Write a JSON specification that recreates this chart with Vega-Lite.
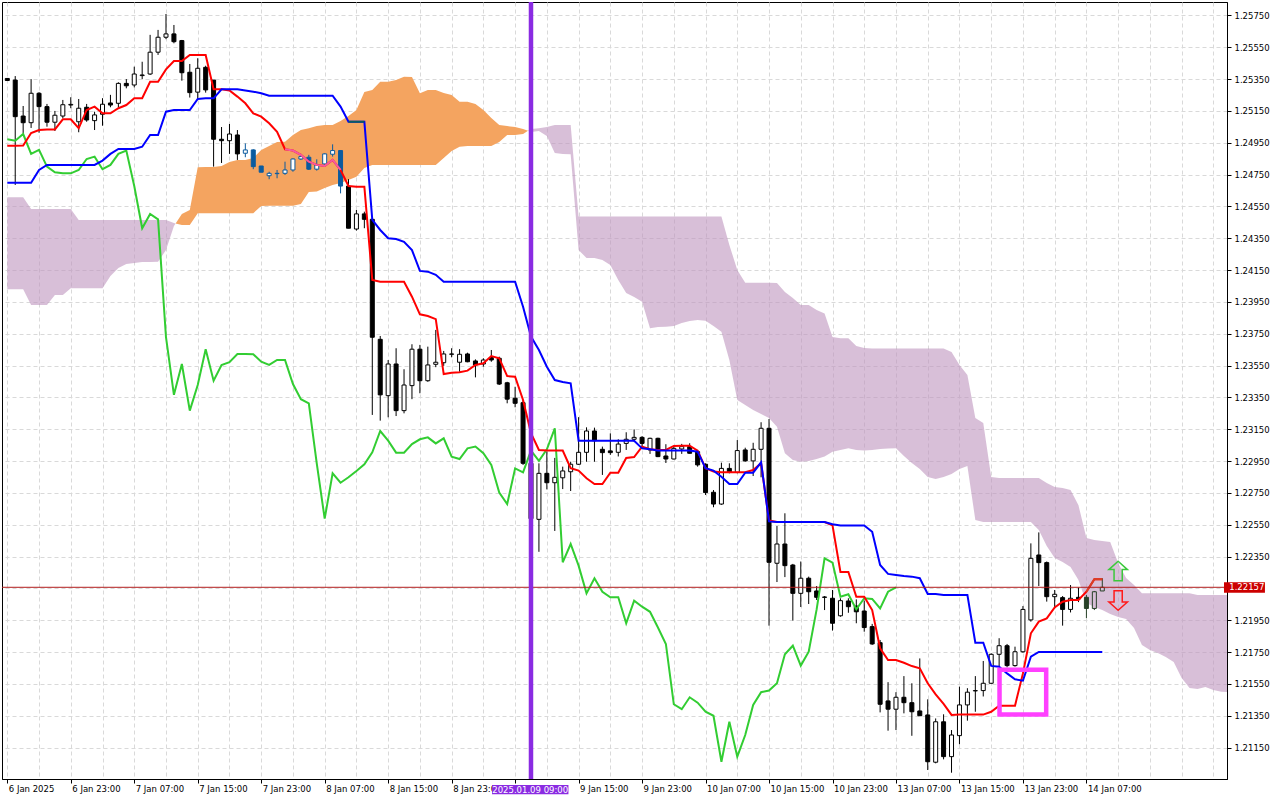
{
  "$schema": "https://vega.github.io/schema/vega-lite/v6.json",
  "width": 1225,
  "height": 777,
  "autosize": {"type": "none"},
  "padding": {"left": 2, "top": 2, "right": 53, "bottom": 21},
  "background": "white",
  "config": {
    "font": "DejaVu Sans",
    "view": {"stroke": "black", "strokeWidth": 1},
    "axis": {"labelFont": "DejaVu Sans", "labelFontSize": 8.5, "labelColor": "black", "tickColor": "black", "domainColor": "black", "domainWidth": 1, "tickWidth": 1, "labelOverlap": false, "zindex": 0}
  },
  "datasets": {
    "bars": [
      {"i":0,"o":1.25354,"h":1.25357,"l":1.25338,"c":1.25341,"t":1.24931,"k":1.24699,"ch":1.24972},
      {"i":1,"o":1.25344,"h":1.25369,"l":1.24685,"c":1.25114,"t":1.24931,"k":1.24699,"ch":1.24963},
      {"i":2,"o":1.25118,"h":1.25181,"l":1.25011,"c":1.25076,"t":1.24933,"k":1.24699,"ch":1.25005},
      {"i":3,"o":1.25076,"h":1.25350,"l":1.25043,"c":1.25261,"t":1.25011,"k":1.24699,"ch":1.24880},
      {"i":4,"o":1.25261,"h":1.25268,"l":1.25013,"c":1.25177,"t":1.25030,"k":1.24779,"ch":1.24905},
      {"i":5,"o":1.25177,"h":1.25194,"l":1.25051,"c":1.25079,"t":1.25034,"k":1.24811,"ch":1.24800},
      {"i":6,"o":1.25079,"h":1.25150,"l":1.25024,"c":1.25123,"t":1.25034,"k":1.24811,"ch":1.24765},
      {"i":7,"o":1.25118,"h":1.25219,"l":1.25104,"c":1.25189,"t":1.25097,"k":1.24811,"ch":1.24758},
      {"i":8,"o":1.25187,"h":1.25236,"l":1.25167,"c":1.25191,"t":1.25097,"k":1.24811,"ch":1.24758},
      {"i":9,"o":1.25082,"h":1.25225,"l":1.25016,"c":1.25167,"t":1.25041,"k":1.24811,"ch":1.24779},
      {"i":10,"o":1.25173,"h":1.25194,"l":1.25082,"c":1.25093,"t":1.25156,"k":1.24811,"ch":1.24848},
      {"i":11,"o":1.25089,"h":1.25145,"l":1.25030,"c":1.25125,"t":1.25177,"k":1.24811,"ch":1.24863},
      {"i":12,"o":1.25129,"h":1.25230,"l":1.25057,"c":1.25192,"t":1.25135,"k":1.24838,"ch":1.24784},
      {"i":13,"o":1.25200,"h":1.25251,"l":1.25173,"c":1.25187,"t":1.25135,"k":1.24880,"ch":1.24811},
      {"i":14,"o":1.25198,"h":1.25330,"l":1.25173,"c":1.25323,"t":1.25167,"k":1.24911,"ch":1.24880},
      {"i":15,"o":1.25323,"h":1.25350,"l":1.25292,"c":1.25308,"t":1.25187,"k":1.24911,"ch":1.24901},
      {"i":16,"o":1.25313,"h":1.25428,"l":1.25298,"c":1.25382,"t":1.25230,"k":1.24911,"ch":1.24678},
      {"i":17,"o":1.25372,"h":1.25459,"l":1.25350,"c":1.25376,"t":1.25230,"k":1.24925,"ch":1.24413},
      {"i":18,"o":1.25382,"h":1.25628,"l":1.25376,"c":1.25519,"t":1.25333,"k":1.24999,"ch":1.24503},
      {"i":19,"o":1.25519,"h":1.25659,"l":1.25502,"c":1.25613,"t":1.25333,"k":1.24999,"ch":1.24469},
      {"i":20,"o":1.25613,"h":1.25759,"l":1.25601,"c":1.25634,"t":1.25411,"k":1.25145,"ch":1.23728},
      {"i":21,"o":1.25634,"h":1.25690,"l":1.25575,"c":1.25585,"t":1.25464,"k":1.25156,"ch":1.23366},
      {"i":22,"o":1.25592,"h":1.25596,"l":1.25340,"c":1.25390,"t":1.25464,"k":1.25156,"ch":1.23560},
      {"i":23,"o":1.25393,"h":1.25445,"l":1.25234,"c":1.25265,"t":1.25502,"k":1.25156,"ch":1.23267},
      {"i":24,"o":1.25268,"h":1.25481,"l":1.25230,"c":1.25418,"t":1.25502,"k":1.25225,"ch":1.23428},
      {"i":25,"o":1.25424,"h":1.25434,"l":1.25265,"c":1.25282,"t":1.25502,"k":1.25229,"ch":1.23653},
      {"i":26,"o":1.25344,"h":1.25344,"l":1.24800,"c":1.24972,"t":1.25286,"k":1.25229,"ch":1.23455},
      {"i":27,"o":1.24972,"h":1.25049,"l":1.24823,"c":1.24963,"t":1.25286,"k":1.25286,"ch":1.23554},
      {"i":28,"o":1.24963,"h":1.25068,"l":1.24880,"c":1.25005,"t":1.25278,"k":1.25286,"ch":1.23571},
      {"i":29,"o":1.24999,"h":1.25030,"l":1.24842,"c":1.24880,"t":1.25240,"k":1.25286,"ch":1.23623},
      {"i":30,"o":1.24884,"h":1.24946,"l":1.24859,"c":1.24905,"t":1.25198,"k":1.25278,"ch":1.23623},
      {"i":31,"o":1.24905,"h":1.24909,"l":1.24784,"c":1.24800,"t":1.25135,"k":1.25271,"ch":1.23621},
      {"i":32,"o":1.24804,"h":1.24804,"l":1.24765,"c":1.24765,"t":1.25114,"k":1.25261,"ch":1.23574},
      {"i":33,"o":1.24743,"h":1.24768,"l":1.24721,"c":1.24758,"t":1.25072,"k":1.25246,"ch":1.23554},
      {"i":34,"o":1.24756,"h":1.24779,"l":1.24727,"c":1.24758,"t":1.25019,"k":1.25246,"ch":1.23585},
      {"i":35,"o":1.24758,"h":1.24831,"l":1.24748,"c":1.24779,"t":1.24909,"k":1.25246,"ch":1.23585},
      {"i":36,"o":1.24779,"h":1.24852,"l":1.24768,"c":1.24848,"t":1.24901,"k":1.25246,"ch":1.23434},
      {"i":37,"o":1.24848,"h":1.24880,"l":1.24842,"c":1.24863,"t":1.24874,"k":1.25246,"ch":1.23339},
      {"i":38,"o":1.24859,"h":1.24874,"l":1.24779,"c":1.24784,"t":1.24831,"k":1.25246,"ch":1.23313},
      {"i":39,"o":1.24784,"h":1.24846,"l":1.24775,"c":1.24811,"t":1.24811,"k":1.25246,"ch":1.22936},
      {"i":40,"o":1.24817,"h":1.24884,"l":1.24811,"c":1.24880,"t":1.24804,"k":1.25246,"ch":1.22588},
      {"i":41,"o":1.24878,"h":1.24940,"l":1.24863,"c":1.24901,"t":1.24842,"k":1.25246,"ch":1.22873},
      {"i":42,"o":1.24901,"h":1.24901,"l":1.24632,"c":1.24678,"t":1.24779,"k":1.25177,"ch":1.22814},
      {"i":43,"o":1.24678,"h":1.24721,"l":1.24413,"c":1.24413,"t":1.24678,"k":1.25082,"ch":1.22848},
      {"i":44,"o":1.24408,"h":1.24528,"l":1.24398,"c":1.24503,"t":1.24674,"k":1.25082,"ch":1.22888},
      {"i":45,"o":1.24503,"h":1.24517,"l":1.24413,"c":1.24469,"t":1.24674,"k":1.25082,"ch":1.22930},
      {"i":46,"o":1.24469,"h":1.24476,"l":1.23240,"c":1.23728,"t":1.24088,"k":1.24465,"ch":1.23005},
      {"i":47,"o":1.23715,"h":1.23736,"l":1.23204,"c":1.23366,"t":1.24077,"k":1.24402,"ch":1.23139},
      {"i":48,"o":1.23361,"h":1.23585,"l":1.23225,"c":1.23560,"t":1.24077,"k":1.24350,"ch":1.23078},
      {"i":49,"o":1.23560,"h":1.23659,"l":1.23233,"c":1.23267,"t":1.24077,"k":1.24345,"ch":1.23003},
      {"i":50,"o":1.23267,"h":1.23527,"l":1.23250,"c":1.23428,"t":1.24077,"k":1.24328,"ch":1.23003},
      {"i":51,"o":1.23424,"h":1.23684,"l":1.23339,"c":1.23653,"t":1.23983,"k":1.24276,"ch":1.23057},
      {"i":52,"o":1.23653,"h":1.23680,"l":1.23376,"c":1.23455,"t":1.23872,"k":1.24145,"ch":1.23087},
      {"i":53,"o":1.23455,"h":1.23669,"l":1.23448,"c":1.23554,"t":1.23861,"k":1.24140,"ch":1.23099},
      {"i":54,"o":1.23558,"h":1.23774,"l":1.23540,"c":1.23571,"t":1.23842,"k":1.24120,"ch":1.23061},
      {"i":55,"o":1.23568,"h":1.23642,"l":1.23548,"c":1.23623,"t":1.23497,"k":1.24077,"ch":1.23093},
      {"i":56,"o":1.23621,"h":1.23659,"l":1.23602,"c":1.23623,"t":1.23505,"k":1.24077,"ch":1.22978},
      {"i":57,"o":1.23571,"h":1.23653,"l":1.23511,"c":1.23621,"t":1.23508,"k":1.24077,"ch":1.22963},
      {"i":58,"o":1.23623,"h":1.23631,"l":1.23571,"c":1.23574,"t":1.23518,"k":1.24077,"ch":1.23030},
      {"i":59,"o":1.23579,"h":1.23589,"l":1.23476,"c":1.23554,"t":1.23554,"k":1.24077,"ch":1.23041},
      {"i":60,"o":1.23560,"h":1.23596,"l":1.23543,"c":1.23585,"t":1.23564,"k":1.24077,"ch":1.22999},
      {"i":61,"o":1.23600,"h":1.23648,"l":1.23574,"c":1.23585,"t":1.23610,"k":1.24077,"ch":1.22926},
      {"i":62,"o":1.23596,"h":1.23606,"l":1.23428,"c":1.23434,"t":1.23596,"k":1.24077,"ch":1.22752},
      {"i":63,"o":1.23442,"h":1.23448,"l":1.23313,"c":1.23339,"t":1.23484,"k":1.24077,"ch":1.22680},
      {"i":64,"o":1.23345,"h":1.23417,"l":1.23288,"c":1.23313,"t":1.23480,"k":1.24077,"ch":1.22904},
      {"i":65,"o":1.23317,"h":1.23334,"l":1.22926,"c":1.22936,"t":1.23334,"k":1.23920,"ch":1.22879},
      {"i":66,"o":1.22936,"h":1.22988,"l":1.22567,"c":1.22588,"t":1.23126,"k":1.23732,"ch":1.23016},
      {"i":67,"o":1.22584,"h":1.22936,"l":1.22380,"c":1.22873,"t":1.23020,"k":1.23648,"ch":1.22951},
      {"i":68,"o":1.22873,"h":1.23010,"l":1.22772,"c":1.22814,"t":1.23016,"k":1.23543,"ch":1.23024},
      {"i":69,"o":1.22814,"h":1.22970,"l":1.22511,"c":1.22848,"t":1.23016,"k":1.23459,"ch":1.23156},
      {"i":70,"o":1.22845,"h":1.22915,"l":1.22774,"c":1.22888,"t":1.23016,"k":1.23447,"ch":1.22314},
      {"i":71,"o":1.22883,"h":1.22946,"l":1.22762,"c":1.22930,"t":1.22905,"k":1.23439,"ch":1.22429},
      {"i":72,"o":1.22930,"h":1.23226,"l":1.22926,"c":1.23005,"t":1.22890,"k":1.23078,"ch":1.22293},
      {"i":73,"o":1.23005,"h":1.23162,"l":1.22946,"c":1.23139,"t":1.22842,"k":1.23078,"ch":1.22119},
      {"i":74,"o":1.23139,"h":1.23160,"l":1.22946,"c":1.23078,"t":1.22806,"k":1.23078,"ch":1.22214},
      {"i":75,"o":1.23024,"h":1.23041,"l":1.22863,"c":1.23003,"t":1.22806,"k":1.23078,"ch":1.22129},
      {"i":76,"o":1.23014,"h":1.23124,"l":1.22989,"c":1.23003,"t":1.22877,"k":1.23078,"ch":1.22094},
      {"i":77,"o":1.23005,"h":1.23087,"l":1.22979,"c":1.23057,"t":1.22877,"k":1.23078,"ch":1.22094},
      {"i":78,"o":1.23061,"h":1.23131,"l":1.23020,"c":1.23087,"t":1.22969,"k":1.23078,"ch":1.21931},
      {"i":79,"o":1.23087,"h":1.23149,"l":1.23071,"c":1.23099,"t":1.22975,"k":1.23078,"ch":1.22073},
      {"i":80,"o":1.23099,"h":1.23107,"l":1.23030,"c":1.23061,"t":1.23041,"k":1.23030,"ch":1.22035},
      {"i":81,"o":1.23020,"h":1.23097,"l":1.22995,"c":1.23093,"t":1.23024,"k":1.23024,"ch":1.22003},
      {"i":82,"o":1.23093,"h":1.23097,"l":1.22975,"c":1.22978,"t":1.23020,"k":1.23016,"ch":1.21904},
      {"i":83,"o":1.22982,"h":1.23056,"l":1.22938,"c":1.22963,"t":1.23020,"k":1.23016,"ch":1.21801},
      {"i":84,"o":1.22963,"h":1.23045,"l":1.22961,"c":1.23030,"t":1.23045,"k":1.23016,"ch":1.21422},
      {"i":85,"o":1.23026,"h":1.23058,"l":1.22995,"c":1.23041,"t":1.23047,"k":1.23016,"ch":1.21391},
      {"i":86,"o":1.23041,"h":1.23062,"l":1.22997,"c":1.22999,"t":1.23047,"k":1.23016,"ch":1.21466},
      {"i":87,"o":1.23009,"h":1.23020,"l":1.22915,"c":1.22926,"t":1.23016,"k":1.23009,"ch":1.21432},
      {"i":88,"o":1.22930,"h":1.22936,"l":1.22737,"c":1.22752,"t":1.22905,"k":1.22905,"ch":1.21375},
      {"i":89,"o":1.22754,"h":1.22768,"l":1.22660,"c":1.22680,"t":1.22884,"k":1.22890,"ch":1.21350},
      {"i":90,"o":1.22680,"h":1.22940,"l":1.22675,"c":1.22904,"t":1.22880,"k":1.22852,"ch":1.21061},
      {"i":91,"o":1.22904,"h":1.22936,"l":1.22873,"c":1.22879,"t":1.22880,"k":1.22806,"ch":1.21312},
      {"i":92,"o":1.22879,"h":1.23082,"l":1.22873,"c":1.23016,"t":1.22880,"k":1.22806,"ch":1.21093},
      {"i":93,"o":1.23020,"h":1.23034,"l":1.22946,"c":1.22951,"t":1.22880,"k":1.22877,"ch":1.21229},
      {"i":94,"o":1.22951,"h":1.23065,"l":1.22856,"c":1.23024,"t":1.22894,"k":1.22877,"ch":1.21418},
      {"i":95,"o":1.23024,"h":1.23194,"l":1.22848,"c":1.23156,"t":1.22936,"k":1.22942,"ch":1.21498},
      {"i":96,"o":1.23156,"h":1.23214,"l":1.21916,"c":1.22314,"t":1.22576,"k":1.22571,"ch":1.21508},
      {"i":97,"o":1.22308,"h":1.22542,"l":1.22190,"c":1.22429,"t":1.22567,"k":1.22567,"ch":1.21554},
      {"i":98,"o":1.22429,"h":1.22622,"l":1.22221,"c":1.22293,"t":1.22567,"k":1.22567,"ch":1.21736},
      {"i":99,"o":1.22297,"h":1.22304,"l":1.21948,"c":1.22119,"t":1.22567,"k":1.22567,"ch":1.21790},
      {"i":100,"o":1.22119,"h":1.22319,"l":1.22033,"c":1.22214,"t":1.22567,"k":1.22567,"ch":1.21665},
      {"i":101,"o":1.22214,"h":1.22224,"l":1.22052,"c":1.22129,"t":1.22567,"k":1.22567,"ch":1.21752},
      {"i":102,"o":1.22134,"h":1.22165,"l":1.22077,"c":1.22094,"t":1.22567,"k":1.22567,"ch":1.22018},
      {"i":103,"o":1.22096,"h":1.22102,"l":1.22014,"c":1.22094,"t":1.22567,"k":1.22567,"ch":1.22339},
      {"i":104,"o":1.22088,"h":1.22140,"l":1.21885,"c":1.21931,"t":1.22546,"k":1.22553,"ch":1.22312},
      {"i":105,"o":1.21978,"h":1.22088,"l":1.21972,"c":1.22073,"t":1.22253,"k":1.22546,"ch":1.22098},
      {"i":106,"o":1.22071,"h":1.22088,"l":1.21997,"c":1.22035,"t":1.22253,"k":1.22546,"ch":1.22113},
      {"i":107,"o":1.22039,"h":1.22081,"l":1.21931,"c":1.22003,"t":1.22098,"k":1.22546,"ch":1.22018},
      {"i":108,"o":1.22008,"h":1.22073,"l":1.21878,"c":1.21904,"t":1.22098,"k":1.22546,"ch":1.22088},
      {"i":109,"o":1.21910,"h":1.21927,"l":1.21795,"c":1.21801,"t":1.22014,"k":1.22506,"ch":1.22084},
      {"i":110,"o":1.21809,"h":1.21826,"l":1.21371,"c":1.21422,"t":1.21774,"k":1.22297,"ch":1.22024},
      {"i":111,"o":1.21443,"h":1.21561,"l":1.21256,"c":1.21391,"t":1.21700,"k":1.22241,"ch":1.22129},
      {"i":112,"o":1.21391,"h":1.21498,"l":1.21260,"c":1.21466,"t":1.21700,"k":1.22234,"ch":1.22157},
      {"i":113,"o":1.21466,"h":1.21599,"l":1.21365,"c":1.21432,"t":1.21683,"k":1.22228},
      {"i":114,"o":1.21432,"h":1.21554,"l":1.21224,"c":1.21375,"t":1.21662,"k":1.22224},
      {"i":115,"o":1.21380,"h":1.21710,"l":1.21350,"c":1.21350,"t":1.21648,"k":1.22214},
      {"i":116,"o":1.21355,"h":1.21453,"l":1.21009,"c":1.21061,"t":1.21554,"k":1.22115},
      {"i":117,"o":1.21058,"h":1.21333,"l":1.21051,"c":1.21312,"t":1.21484,"k":1.22115},
      {"i":118,"o":1.21312,"h":1.21359,"l":1.21076,"c":1.21093,"t":1.21424,"k":1.22109},
      {"i":119,"o":1.21093,"h":1.21260,"l":1.20992,"c":1.21229,"t":1.21355,"k":1.22109},
      {"i":120,"o":1.21225,"h":1.21533,"l":1.21171,"c":1.21418,"t":1.21357,"k":1.22109},
      {"i":121,"o":1.21418,"h":1.21523,"l":1.21319,"c":1.21498,"t":1.21357,"k":1.22109},
      {"i":122,"o":1.21506,"h":1.21599,"l":1.21375,"c":1.21508,"t":1.21357,"k":1.21809},
      {"i":123,"o":1.21508,"h":1.21694,"l":1.21471,"c":1.21554,"t":1.21357,"k":1.21809},
      {"i":124,"o":1.21554,"h":1.21742,"l":1.21550,"c":1.21736,"t":1.21375,"k":1.21663},
      {"i":125,"o":1.21736,"h":1.21837,"l":1.21658,"c":1.21790,"t":1.21413,"k":1.21658},
      {"i":126,"o":1.21790,"h":1.21801,"l":1.21654,"c":1.21665,"t":1.21413,"k":1.21616},
      {"i":127,"o":1.21665,"h":1.21784,"l":1.21658,"c":1.21752,"t":1.21413,"k":1.21579},
      {"i":128,"o":1.21752,"h":1.22039,"l":1.21746,"c":1.22018,"t":1.21616,"k":1.21570},
      {"i":129,"o":1.21952,"h":1.22433,"l":1.21941,"c":1.22339,"t":1.21868,"k":1.21721},
      {"i":130,"o":1.22360,"h":1.22502,"l":1.22165,"c":1.22312,"t":1.21941,"k":1.21751},
      {"i":131,"o":1.22312,"h":1.22319,"l":1.22067,"c":1.22098,"t":1.21962,"k":1.21751},
      {"i":132,"o":1.22098,"h":1.22140,"l":1.22031,"c":1.22113,"t":1.22031,"k":1.21751},
      {"i":133,"o":1.22092,"h":1.22102,"l":1.21916,"c":1.22018,"t":1.22066,"k":1.21751},
      {"i":134,"o":1.22018,"h":1.22171,"l":1.21999,"c":1.22088,"t":1.22077,"k":1.21751},
      {"i":135,"o":1.22094,"h":1.22155,"l":1.22064,"c":1.22084,"t":1.22077,"k":1.21751},
      {"i":136,"o":1.22094,"h":1.22109,"l":1.21963,"c":1.22024,"t":1.22129,"k":1.21751},
      {"i":137,"o":1.22024,"h":1.22134,"l":1.22014,"c":1.22129,"t":1.22207,"k":1.21751},
      {"i":138,"o":1.22134,"h":1.22214,"l":1.22134,"c":1.22157,"t":1.22207,"k":1.21751}
    ],
    "cloud": [
      {"i":0,"a":1.24029,"b":1.24608,"kind":"bear","seg":1},
      {"i":2,"a":1.24029,"b":1.24608,"kind":"bear","seg":1},
      {"i":3,"a":1.23931,"b":1.24534,"kind":"bear","seg":1},
      {"i":5,"a":1.23931,"b":1.24534,"kind":"bear","seg":1},
      {"i":6,"a":1.23993,"b":1.24534,"kind":"bear","seg":1},
      {"i":7,"a":1.23993,"b":1.24534,"kind":"bear","seg":1},
      {"i":8,"a":1.24036,"b":1.24534,"kind":"bear","seg":1},
      {"i":9,"a":1.24036,"b":1.24465,"kind":"bear","seg":1},
      {"i":12,"a":1.24036,"b":1.24465,"kind":"bear","seg":1},
      {"i":13,"a":1.24113,"b":1.24465,"kind":"bear","seg":1},
      {"i":14,"a":1.24163,"b":1.24465,"kind":"bear","seg":1},
      {"i":15,"a":1.24188,"b":1.24465,"kind":"bear","seg":1},
      {"i":16,"a":1.24194,"b":1.24465,"kind":"bear","seg":1},
      {"i":17,"a":1.24201,"b":1.24465,"kind":"bear","seg":1},
      {"i":18,"a":1.24201,"b":1.24465,"kind":"bear","seg":1},
      {"i":19,"a":1.24202,"b":1.24465,"kind":"bear","seg":1},
      {"i":20,"a":1.24276,"b":1.24465,"kind":"bear","seg":1},
      {"i":21,"a":1.24427,"b":1.24446,"kind":"bear","seg":1},
      {"i":21.214,"a":1.24443,"b":1.24443,"kind":"bear","seg":1},
      {"i":21.214,"a":1.24443,"b":1.24443,"kind":"bull","seg":2},
      {"i":22,"a":1.24502,"b":1.24433,"kind":"bull","seg":2},
      {"i":23,"a":1.24528,"b":1.24433,"kind":"bull","seg":2},
      {"i":24,"a":1.24796,"b":1.24507,"kind":"bull","seg":2},
      {"i":25,"a":1.24798,"b":1.24507,"kind":"bull","seg":2},
      {"i":26,"a":1.24798,"b":1.24507,"kind":"bull","seg":2},
      {"i":27,"a":1.24804,"b":1.24507,"kind":"bull","seg":2},
      {"i":28,"a":1.24829,"b":1.24507,"kind":"bull","seg":2},
      {"i":29,"a":1.24842,"b":1.24507,"kind":"bull","seg":2},
      {"i":30,"a":1.24842,"b":1.24507,"kind":"bull","seg":2},
      {"i":31,"a":1.24854,"b":1.24507,"kind":"bull","seg":2},
      {"i":32,"a":1.24905,"b":1.24553,"kind":"bull","seg":2},
      {"i":33,"a":1.24930,"b":1.24555,"kind":"bull","seg":2},
      {"i":34,"a":1.24955,"b":1.24555,"kind":"bull","seg":2},
      {"i":35,"a":1.24957,"b":1.24555,"kind":"bull","seg":2},
      {"i":36,"a":1.24999,"b":1.24555,"kind":"bull","seg":2},
      {"i":37,"a":1.25030,"b":1.24565,"kind":"bull","seg":2},
      {"i":38,"a":1.25041,"b":1.24641,"kind":"bull","seg":2},
      {"i":39,"a":1.25055,"b":1.24643,"kind":"bull","seg":2},
      {"i":40,"a":1.25062,"b":1.24666,"kind":"bull","seg":2},
      {"i":41,"a":1.25062,"b":1.24685,"kind":"bull","seg":2},
      {"i":42,"a":1.25087,"b":1.24697,"kind":"bull","seg":2},
      {"i":43,"a":1.25118,"b":1.24716,"kind":"bull","seg":2},
      {"i":44,"a":1.25156,"b":1.24737,"kind":"bull","seg":2},
      {"i":45,"a":1.25269,"b":1.24792,"kind":"bull","seg":2},
      {"i":46,"a":1.25282,"b":1.24811,"kind":"bull","seg":2},
      {"i":47,"a":1.25334,"b":1.24811,"kind":"bull","seg":2},
      {"i":48,"a":1.25334,"b":1.24811,"kind":"bull","seg":2},
      {"i":49,"a":1.25344,"b":1.24811,"kind":"bull","seg":2},
      {"i":50,"a":1.25365,"b":1.24811,"kind":"bull","seg":2},
      {"i":51,"a":1.25363,"b":1.24811,"kind":"bull","seg":2},
      {"i":52,"a":1.25261,"b":1.24811,"kind":"bull","seg":2},
      {"i":53,"a":1.25282,"b":1.24811,"kind":"bull","seg":2},
      {"i":54,"a":1.25282,"b":1.24811,"kind":"bull","seg":2},
      {"i":55,"a":1.25263,"b":1.24854,"kind":"bull","seg":2},
      {"i":56,"a":1.25250,"b":1.24898,"kind":"bull","seg":2},
      {"i":57,"a":1.25208,"b":1.24925,"kind":"bull","seg":2},
      {"i":58,"a":1.25208,"b":1.24930,"kind":"bull","seg":2},
      {"i":59,"a":1.25194,"b":1.24930,"kind":"bull","seg":2},
      {"i":60,"a":1.25156,"b":1.24930,"kind":"bull","seg":2},
      {"i":61,"a":1.25106,"b":1.24930,"kind":"bull","seg":2},
      {"i":62,"a":1.25062,"b":1.24955,"kind":"bull","seg":2},
      {"i":63,"a":1.25055,"b":1.24999,"kind":"bull","seg":2},
      {"i":64,"a":1.25049,"b":1.24999,"kind":"bull","seg":2},
      {"i":65,"a":1.25036,"b":1.25005,"kind":"bull","seg":2},
      {"i":65.625,"a":1.25025,"b":1.25025,"kind":"bull","seg":2},
      {"i":65.625,"a":1.25025,"b":1.25025,"kind":"bear","seg":3},
      {"i":66,"a":1.25017,"b":1.25036,"kind":"bear","seg":3},
      {"i":67,"a":1.25024,"b":1.25041,"kind":"bear","seg":3},
      {"i":68,"a":1.24992,"b":1.25049,"kind":"bear","seg":3},
      {"i":69,"a":1.24886,"b":1.25062,"kind":"bear","seg":3},
      {"i":70,"a":1.24880,"b":1.25062,"kind":"bear","seg":3},
      {"i":71,"a":1.24878,"b":1.25062,"kind":"bear","seg":3},
      {"i":72,"a":1.24276,"b":1.24486,"kind":"bear","seg":3},
      {"i":73,"a":1.24226,"b":1.24486,"kind":"bear","seg":3},
      {"i":74,"a":1.24226,"b":1.24486,"kind":"bear","seg":3},
      {"i":75,"a":1.24213,"b":1.24486,"kind":"bear","seg":3},
      {"i":76,"a":1.24182,"b":1.24486,"kind":"bear","seg":3},
      {"i":77,"a":1.24088,"b":1.24486,"kind":"bear","seg":3},
      {"i":78,"a":1.24006,"b":1.24486,"kind":"bear","seg":3},
      {"i":79,"a":1.23981,"b":1.24486,"kind":"bear","seg":3},
      {"i":80,"a":1.23951,"b":1.24486,"kind":"bear","seg":3},
      {"i":81,"a":1.23784,"b":1.24486,"kind":"bear","seg":3},
      {"i":82,"a":1.23792,"b":1.24486,"kind":"bear","seg":3},
      {"i":83,"a":1.23794,"b":1.24486,"kind":"bear","seg":3},
      {"i":84,"a":1.23799,"b":1.24486,"kind":"bear","seg":3},
      {"i":85,"a":1.23817,"b":1.24486,"kind":"bear","seg":3},
      {"i":86,"a":1.23830,"b":1.24486,"kind":"bear","seg":3},
      {"i":87,"a":1.23836,"b":1.24486,"kind":"bear","seg":3},
      {"i":88,"a":1.23832,"b":1.24486,"kind":"bear","seg":3},
      {"i":89,"a":1.23799,"b":1.24486,"kind":"bear","seg":3},
      {"i":90,"a":1.23763,"b":1.24486,"kind":"bear","seg":3},
      {"i":91,"a":1.23585,"b":1.24308,"kind":"bear","seg":3},
      {"i":92,"a":1.23334,"b":1.24151,"kind":"bear","seg":3},
      {"i":93,"a":1.23302,"b":1.24071,"kind":"bear","seg":3},
      {"i":94,"a":1.23271,"b":1.24071,"kind":"bear","seg":3},
      {"i":95,"a":1.23246,"b":1.24071,"kind":"bear","seg":3},
      {"i":96,"a":1.23221,"b":1.24071,"kind":"bear","seg":3},
      {"i":97,"a":1.23166,"b":1.24069,"kind":"bear","seg":3},
      {"i":98,"a":1.22999,"b":1.24012,"kind":"bear","seg":3},
      {"i":99,"a":1.22957,"b":1.23975,"kind":"bear","seg":3},
      {"i":100,"a":1.22946,"b":1.23931,"kind":"bear","seg":3},
      {"i":101,"a":1.22951,"b":1.23931,"kind":"bear","seg":3},
      {"i":102,"a":1.22963,"b":1.23899,"kind":"bear","seg":3},
      {"i":103,"a":1.22978,"b":1.23878,"kind":"bear","seg":3},
      {"i":104,"a":1.23009,"b":1.23729,"kind":"bear","seg":3},
      {"i":105,"a":1.23020,"b":1.23721,"kind":"bear","seg":3},
      {"i":106,"a":1.23030,"b":1.23721,"kind":"bear","seg":3},
      {"i":107,"a":1.23020,"b":1.23673,"kind":"bear","seg":3},
      {"i":108,"a":1.23017,"b":1.23660,"kind":"bear","seg":3},
      {"i":109,"a":1.23020,"b":1.23658,"kind":"bear","seg":3},
      {"i":110,"a":1.23026,"b":1.23658,"kind":"bear","seg":3},
      {"i":111,"a":1.23029,"b":1.23658,"kind":"bear","seg":3},
      {"i":112,"a":1.23030,"b":1.23658,"kind":"bear","seg":3},
      {"i":113,"a":1.22982,"b":1.23658,"kind":"bear","seg":3},
      {"i":114,"a":1.22938,"b":1.23658,"kind":"bear","seg":3},
      {"i":115,"a":1.22900,"b":1.23658,"kind":"bear","seg":3},
      {"i":116,"a":1.22850,"b":1.23658,"kind":"bear","seg":3},
      {"i":117,"a":1.22838,"b":1.23658,"kind":"bear","seg":3},
      {"i":118,"a":1.22850,"b":1.23658,"kind":"bear","seg":3},
      {"i":119,"a":1.22869,"b":1.23635,"kind":"bear","seg":3},
      {"i":120,"a":1.22900,"b":1.23554,"kind":"bear","seg":3},
      {"i":121,"a":1.22919,"b":1.23491,"kind":"bear","seg":3},
      {"i":122,"a":1.22580,"b":1.23221,"kind":"bear","seg":3},
      {"i":123,"a":1.22567,"b":1.23190,"kind":"bear","seg":3},
      {"i":124,"a":1.22567,"b":1.22850,"kind":"bear","seg":3},
      {"i":125,"a":1.22567,"b":1.22844,"kind":"bear","seg":3},
      {"i":129,"a":1.22567,"b":1.22844,"kind":"bear","seg":3},
      {"i":130,"a":1.22517,"b":1.22844,"kind":"bear","seg":3},
      {"i":131,"a":1.22416,"b":1.22812,"kind":"bear","seg":3},
      {"i":132,"a":1.22341,"b":1.22787,"kind":"bear","seg":3},
      {"i":133,"a":1.22316,"b":1.22781,"kind":"bear","seg":3},
      {"i":134,"a":1.22285,"b":1.22768,"kind":"bear","seg":3},
      {"i":135,"a":1.22203,"b":1.22672,"kind":"bear","seg":3},
      {"i":136,"a":1.22058,"b":1.22467,"kind":"bear","seg":3},
      {"i":137,"a":1.22033,"b":1.22454,"kind":"bear","seg":3},
      {"i":138,"a":1.22014,"b":1.22448,"kind":"bear","seg":3},
      {"i":139,"a":1.21989,"b":1.22442,"kind":"bear","seg":3},
      {"i":140,"a":1.21970,"b":1.22310,"kind":"bear","seg":3},
      {"i":141,"a":1.21958,"b":1.22216,"kind":"bear","seg":3},
      {"i":142,"a":1.21901,"b":1.22172,"kind":"bear","seg":3},
      {"i":143,"a":1.21795,"b":1.22120,"kind":"bear","seg":3},
      {"i":144,"a":1.21763,"b":1.22120,"kind":"bear","seg":3},
      {"i":145,"a":1.21744,"b":1.22120,"kind":"bear","seg":3},
      {"i":146,"a":1.21719,"b":1.22120,"kind":"bear","seg":3},
      {"i":147,"a":1.21688,"b":1.22120,"kind":"bear","seg":3},
      {"i":148,"a":1.21587,"b":1.22120,"kind":"bear","seg":3},
      {"i":149,"a":1.21524,"b":1.22120,"kind":"bear","seg":3},
      {"i":150,"a":1.21518,"b":1.22109,"kind":"bear","seg":3},
      {"i":151,"a":1.21531,"b":1.22109,"kind":"bear","seg":3},
      {"i":152,"a":1.21512,"b":1.22109,"kind":"bear","seg":3},
      {"i":153,"a":1.21501,"b":1.22109,"kind":"bear","seg":3},
      {"i":154,"a":1.21499,"b":1.22109,"kind":"bear","seg":3}
    ]
  },
  "layer": [
    {
      "data": {"name": "cloud"},
      "transform": [{"filter": "datum.kind === 'bear'"}],
      "mark": {"type": "area", "orient": "vertical", "clip": true, "color": "#be94be", "opacity": 0.6},
      "encoding": {
        "x": {
          "field": "i", "type": "quantitative",
          "scale": {"domain": [-0.0375, 153.0875], "nice": false, "zero": false},
          "axis": {
            "title": null, "orient": "bottom", "zindex": 0, "tickCount": 100,
            "values": [0,4,8,12,16,20,24,28,32,36,40,44,48,52,56,60,64,68,72,76,80,84,88,92,96,100,104,108,112,116,120,124,128,132,136,140,144,148,152],
            "grid": true, "gridColor": "#d9d9d9", "gridDash": [4, 3], "gridWidth": 1,
            "tickSize": 4,
            "tickOpacity": {"condition": {"test": "datum.value % 8 === 0 && datum.value <= 136", "value": 1}, "value": 0},
            "labelExpr": "datum.value % 8 === 0 && datum.value <= 136 && datum.value !== 64 ? ['6 Jan 2025','6 Jan 23:00','7 Jan 07:00','7 Jan 15:00','7 Jan 23:00','8 Jan 07:00','8 Jan 15:00','8 Jan 23:00','9 Jan 07:00','9 Jan 15:00','9 Jan 23:00','10 Jan 07:00','10 Jan 15:00','10 Jan 23:00','13 Jan 07:00','13 Jan 15:00','13 Jan 23:00','14 Jan 07:00'][datum.value / 8] : ''",
            "labelAlign": "left", "labelBaseline": "top", "labelPadding": 1, "labelOffset": 1,
            "labelOverlap": false, "labelFlush": false, "labelBound": false
          }
        },
        "y": {
          "field": "a", "type": "quantitative",
          "scale": {"domain": [1.209525, 1.258344], "nice": false, "zero": false},
          "axis": {
            "title": null, "orient": "right", "zindex": 0, "tickCount": 100,
            "values": [1.2115,1.2135,1.2155,1.2175,1.2195,1.2215,1.2235,1.2255,1.2275,1.2295,1.2315,1.2335,1.2355,1.2375,1.2395,1.2415,1.2435,1.2455,1.2475,1.2495,1.2515,1.2535,1.2555,1.2575],
            "labelExpr": "abs(datum.value - 1.2215) < 0.00001 ? '' : format(datum.value, '.5f')",
            "grid": true, "gridColor": "#d9d9d9", "gridDash": [4, 3], "gridWidth": 1,
            "tickSize": 4, "labelPadding": 3, "labelOverlap": false, "labelBound": false, "labelFlush": false
          }
        },
        "y2": {"field": "b"},
        "detail": {"field": "seg", "type": "nominal"}
      }
    },
    {
      "data": {"name": "cloud"},
      "transform": [{"filter": "datum.kind === 'bull'"}],
      "mark": {"type": "area", "orient": "vertical", "clip": true, "color": "#f4a460", "opacity": 1},
      "encoding": {
        "x": {"field": "i", "type": "quantitative", "axis": {"title": null}},
        "y": {"field": "a", "type": "quantitative", "axis": {"title": null}},
        "y2": {"field": "b"}
      }
    },
    {
      "data": {"name": "bars"},
      "mark": {"type": "rule", "strokeWidth": 1},
      "encoding": {
        "x": {"field": "i", "type": "quantitative", "axis": {"title": null}},
        "y": {"field": "l", "type": "quantitative", "axis": {"title": null}},
        "y2": {"field": "h"},
        "color": {
          "condition": [
            {"test": "datum.i >= 30 && datum.i <= 42", "value": "#0b5b9f"},
            {"test": "datum.i >= 136", "value": "#274027"}
          ],
          "value": "black"
        }
      }
    },
    {
      "data": {"name": "bars"},
      "transform": [{"filter": "datum.c < datum.o"}],
      "mark": {"type": "bar", "size": 4, "strokeWidth": 1},
      "encoding": {
        "x": {"field": "i", "type": "quantitative", "axis": {"title": null}},
        "y": {"field": "o", "type": "quantitative", "axis": {"title": null}},
        "y2": {"field": "c"},
        "fill": {
          "condition": [
            {"test": "datum.i >= 30 && datum.i <= 42", "value": "#0b5b9f"},
            {"test": "datum.i >= 136", "value": "#274027"}
          ],
          "value": "black"
        },
        "stroke": {
          "condition": [
            {"test": "datum.i >= 30 && datum.i <= 42", "value": "#0b5b9f"},
            {"test": "datum.i >= 136", "value": "#274027"}
          ],
          "value": "black"
        }
      }
    },
    {
      "data": {"name": "bars"},
      "transform": [{"filter": "datum.c >= datum.o"}],
      "mark": {"type": "bar", "size": 4, "strokeWidth": 1},
      "encoding": {
        "x": {"field": "i", "type": "quantitative", "axis": {"title": null}},
        "y": {"field": "o", "type": "quantitative", "axis": {"title": null}},
        "y2": {"field": "c"},
        "fill": {
          "condition": {"test": "datum.i >= 136", "value": "#d8bfd8"},
          "value": "white"
        },
        "stroke": {
          "condition": [
            {"test": "datum.i >= 30 && datum.i <= 42", "value": "#0b5b9f"},
            {"test": "datum.i >= 136", "value": "#274027"}
          ],
          "value": "black"
        }
      }
    },
    {
      "data": {"name": "bars"},
      "mark": {"type": "line", "color": "#32cd32", "strokeWidth": 2},
      "encoding": {
        "x": {"field": "i", "type": "quantitative", "axis": {"title": null}},
        "y": {"field": "ch", "type": "quantitative", "axis": {"title": null}}
      }
    },
    {
      "data": {"name": "bars"},
      "mark": {"type": "line", "color": "#ff0000", "strokeWidth": 2},
      "encoding": {
        "x": {"field": "i", "type": "quantitative", "axis": {"title": null}},
        "y": {"field": "t", "type": "quantitative", "axis": {"title": null}}
      }
    },
    {
      "data": {"name": "bars"},
      "transform": [{"filter": "datum.i >= 35 && datum.i <= 42"}],
      "mark": {"type": "line", "color": "#f45b9f", "strokeWidth": 2},
      "encoding": {
        "x": {"field": "i", "type": "quantitative", "axis": {"title": null}},
        "y": {"field": "t", "type": "quantitative", "axis": {"title": null}}
      }
    },
    {
      "data": {"name": "bars"},
      "transform": [{"filter": "datum.i >= 136"}],
      "mark": {"type": "line", "color": "#d84027", "strokeWidth": 2},
      "encoding": {
        "x": {"field": "i", "type": "quantitative", "axis": {"title": null}},
        "y": {"field": "t", "type": "quantitative", "axis": {"title": null}}
      }
    },
    {
      "data": {"name": "bars"},
      "mark": {"type": "line", "color": "#0000ff", "strokeWidth": 2},
      "encoding": {
        "x": {"field": "i", "type": "quantitative", "axis": {"title": null}},
        "y": {"field": "k", "type": "quantitative", "axis": {"title": null}}
      }
    },
    {
      "data": {"name": "bars"},
      "transform": [{"filter": "datum.i >= 43 && datum.i <= 45"}],
      "mark": {"type": "line", "color": "#0b5b60", "strokeWidth": 2},
      "encoding": {
        "x": {"field": "i", "type": "quantitative", "axis": {"title": null}},
        "y": {"field": "k", "type": "quantitative", "axis": {"title": null}}
      }
    },
    {
      "data": {"values": [{"price": 1.22157}]},
      "mark": {"type": "rule", "color": "#b01c1c", "strokeWidth": 1},
      "encoding": {
        "y": {"field": "price", "type": "quantitative", "axis": {"title": null}}
      }
    },
    {
      "data": {"values": [{"i": 66}]},
      "mark": {"type": "rule", "color": "#8a2be2", "strokeWidth": 4.5},
      "encoding": {
        "x": {"field": "i", "type": "quantitative", "axis": {"title": null}}
      }
    },
    {
      "data": {"values": [{"i": 125.05, "i2": 130.93, "p": 1.21639, "p2": 1.21357}]},
      "mark": {"type": "rect", "filled": false, "stroke": "#ff40ff", "strokeWidth": 4.5},
      "encoding": {
        "x": {"field": "i", "type": "quantitative", "axis": {"title": null}},
        "x2": {"field": "i2"},
        "y": {"field": "p", "type": "quantitative", "axis": {"title": null}},
        "y2": {"field": "p2"}
      }
    },
    {
      "data": {"values": [{"i": 140, "p": 1.22259, "dir": "up"}, {"i": 140, "p": 1.22074, "dir": "down"}]},
      "mark": {"type": "point", "filled": false, "size": 380, "strokeWidth": 1.5, "opacity": 1},
      "encoding": {
        "x": {"field": "i", "type": "quantitative", "axis": {"title": null}},
        "y": {"field": "p", "type": "quantitative", "axis": {"title": null}},
        "shape": {"field": "dir", "type": "nominal", "legend": null, "scale": {"domain": ["up", "down"], "range": ["M0,-1L0.95,-0.15L0.42,-0.15L0.42,1L-0.42,1L-0.42,-0.15L-0.95,-0.15Z", "M0,1L0.95,0.15L0.42,0.15L0.42,-1L-0.42,-1L-0.42,0.15L-0.95,0.15Z"]}},
        "stroke": {"field": "dir", "type": "nominal", "legend": null, "scale": {"domain": ["up", "down"], "range": ["#3cc83c", "#ff1a1a"]}}
      }
    },
    {
      "data": {"values": [{"i": 61.09, "i2": 70.72, "p": 1.20915, "p2": 1.20856}]},
      "mark": {"type": "rect", "color": "#8a2be2"},
      "encoding": {
        "x": {"field": "i", "type": "quantitative", "axis": {"title": null}},
        "x2": {"field": "i2"},
        "y": {"field": "p", "type": "quantitative", "axis": {"title": null}},
        "y2": {"field": "p2"}
      }
    },
    {
      "data": {"values": [{"i": 65.9, "p": 1.20886, "label": "2025.01.09 09:00"}]},
      "mark": {"type": "text", "color": "white", "font": "DejaVu Sans", "fontSize": 8.5, "align": "center", "baseline": "middle"},
      "encoding": {
        "x": {"field": "i", "type": "quantitative", "axis": {"title": null}},
        "y": {"field": "p", "type": "quantitative", "axis": {"title": null}},
        "text": {"field": "label"}
      }
    },
    {
      "data": {"values": [{"i": 153.34, "i2": 158.5, "p": 1.22189, "p2": 1.22123}]},
      "mark": {"type": "rect", "color": "#cc0000"},
      "encoding": {
        "x": {"field": "i", "type": "quantitative", "axis": {"title": null}},
        "x2": {"field": "i2"},
        "y": {"field": "p", "type": "quantitative", "axis": {"title": null}},
        "y2": {"field": "p2"}
      }
    },
    {
      "data": {"values": [{"i": 154.0, "p": 1.22157, "label": "1.22157"}]},
      "mark": {"type": "text", "color": "white", "font": "DejaVu Sans", "fontSize": 8.5, "align": "left", "baseline": "middle"},
      "encoding": {
        "x": {"field": "i", "type": "quantitative", "axis": {"title": null}},
        "y": {"field": "p", "type": "quantitative", "axis": {"title": null}},
        "text": {"field": "label"}
      }
    }
  ]
}
